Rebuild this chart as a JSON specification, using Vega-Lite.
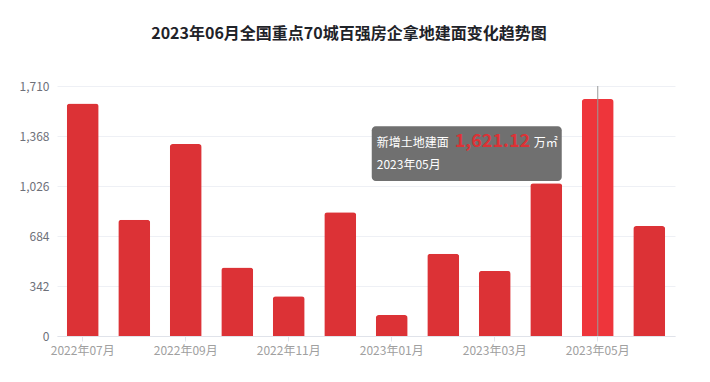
{
  "$schema": "https://vega.github.io/schema/vega-lite/v6.json",
  "width": 618,
  "height": 250,
  "autosize": {"type": "none"},
  "padding": {"left": 57, "top": 86, "right": 35, "bottom": 46},
  "background": "#ffffff",
  "title": {
    "text": "2023年06月全国重点70城百强房企拿地建面变化趋势图",
    "anchor": "middle",
    "frame": "group",
    "dx": -17,
    "offset": 38,
    "font": "Noto Sans CJK SC",
    "fontSize": 16,
    "fontWeight": "bold",
    "color": "#1f2329"
  },
  "config": {
    "view": {"stroke": null},
    "font": "Noto Sans CJK SC"
  },
  "data": {
    "values": [
      {"month": "2022年07月", "value": 1590},
      {"month": "2022年08月", "value": 795},
      {"month": "2022年09月", "value": 1313},
      {"month": "2022年10月", "value": 468},
      {"month": "2022年11月", "value": 272},
      {"month": "2022年12月", "value": 847},
      {"month": "2023年01月", "value": 143},
      {"month": "2023年02月", "value": 563},
      {"month": "2023年03月", "value": 445},
      {"month": "2023年04月", "value": 1045},
      {"month": "2023年05月", "value": 1621.12},
      {"month": "2023年06月", "value": 752}
    ]
  },
  "encoding": {
    "x": {
      "field": "month",
      "type": "ordinal",
      "sort": null,
      "scale": {"paddingInner": 0.38, "paddingOuter": 0.19},
      "axis": {
        "title": null,
        "labelAngle": 0,
        "values": ["2022年07月", "2022年09月", "2022年11月", "2023年01月", "2023年03月", "2023年05月"],
        "labelColor": "#a0a0a0",
        "labelFontSize": 12,
        "labelPadding": 4,
        "domainColor": "#e0e3ea",
        "tickColor": "#e0e3ea",
        "tickSize": 5,
        "grid": false
      }
    },
    "y": {
      "field": "value",
      "type": "quantitative",
      "scale": {"domain": [0, 1710], "nice": false},
      "axis": {
        "title": null,
        "values": [0, 342, 684, 1026, 1368, 1710],
        "format": ",.0f",
        "labelColor": "#6e7079",
        "labelFontSize": 12,
        "labelPadding": 8,
        "domain": false,
        "ticks": false,
        "gridColor": "#eef0f5"
      }
    }
  },
  "layer": [
    {
      "mark": {"type": "bar", "cornerRadiusTopLeft": 3, "cornerRadiusTopRight": 3},
      "encoding": {
        "color": {
          "condition": {"test": "datum.month === '2023年05月'", "value": "#ee353b"},
          "value": "#dc3236"
        }
      }
    },
    {
      "transform": [{"filter": "datum.month === '2023年05月'"}],
      "mark": {"type": "rule", "color": "#9a9a9a", "strokeWidth": 1},
      "encoding": {
        "y": {"datum": 0},
        "y2": {"datum": 1710}
      }
    },
    {
      "transform": [{"filter": "datum.month === '2023年05月'"}],
      "mark": {"type": "rect", "color": "#707070", "opacity": 1, "cornerRadius": 4, "width": 190, "xOffset": -131},
      "encoding": {
        "y": {"datum": 1435},
        "y2": {"datum": 1060}
      }
    },
    {
      "transform": [{"filter": "datum.month === '2023年05月'"}],
      "mark": {"type": "text", "text": "新增土地建面", "align": "left", "baseline": "middle", "dx": -221, "dy": 44, "fontSize": 12, "color": "#ffffff"}
    },
    {
      "transform": [{"filter": "datum.month === '2023年05月'"}],
      "mark": {"type": "text", "align": "left", "baseline": "middle", "dx": -143, "dy": 43, "fontSize": 18, "fontWeight": "bold", "color": "#dc3236"},
      "encoding": {"text": {"field": "value", "type": "quantitative", "format": ",.2f"}}
    },
    {
      "transform": [{"filter": "datum.month === '2023年05月'"}],
      "mark": {"type": "text", "text": "万㎡", "align": "left", "baseline": "middle", "dx": -64, "dy": 44, "fontSize": 12, "color": "#ffffff"}
    },
    {
      "transform": [{"filter": "datum.month === '2023年05月'"}],
      "mark": {"type": "text", "text": "2023年05月", "align": "left", "baseline": "middle", "dx": -221, "dy": 66, "fontSize": 12, "color": "#ffffff"}
    }
  ]
}
